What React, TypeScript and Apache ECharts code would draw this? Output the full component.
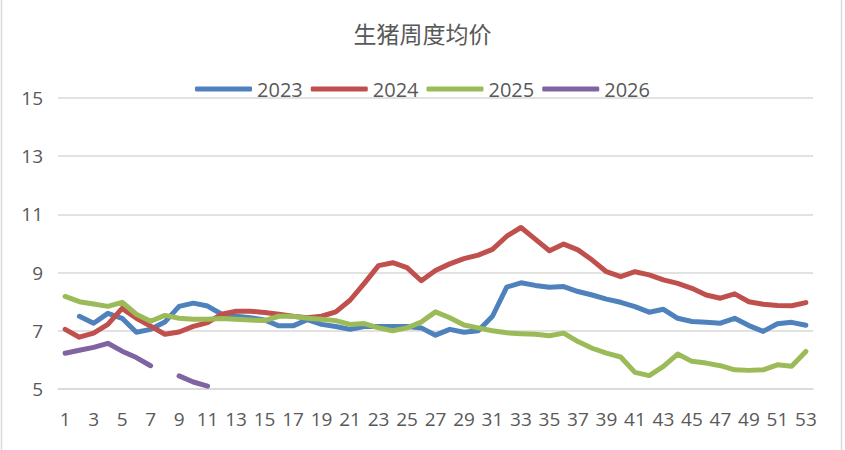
import React, { useEffect, useRef } from 'react';
import * as echarts from 'echarts';

// 周次 1..53
const weeks = Array.from({ length: 53 }, (_, i) => String(i + 1));

const yearNames = ['2023', '2024', '2025', '2026'];
const yearColors = ['#4F81BD', '#C0504D', '#9BBB59', '#8064A2'];

const price2023 = [
  null, 7.5, 7.26, 7.6, 7.43, 6.95, 7.05, 7.3, 7.84, 7.95,
  7.85, 7.57, 7.5, 7.45, 7.37, 7.17, 7.17, 7.38, 7.22, 7.15,
  7.05, 7.15, 7.15, 7.15, 7.15, 7.1, 6.85, 7.05, 6.95, 7.0,
  7.5, 8.5, 8.65, 8.56, 8.5, 8.52, 8.35, 8.23, 8.09, 7.98,
  7.83, 7.64, 7.74, 7.43, 7.32, 7.29, 7.26, 7.43, 7.18, 6.98,
  7.24, 7.29, 7.19,
];

const price2024 = [
  7.05, 6.78, 6.92, 7.22, 7.77, 7.43, 7.16, 6.88, 6.96, 7.15,
  7.28, 7.57, 7.67, 7.67, 7.63, 7.57, 7.5, 7.45, 7.5, 7.65,
  8.05, 8.63, 9.24, 9.34, 9.17, 8.72, 9.07, 9.3, 9.48, 9.6,
  9.8, 10.25, 10.55, 10.15, 9.75, 9.98, 9.78, 9.43, 9.03, 8.86,
  9.03, 8.92, 8.75, 8.63, 8.46, 8.23, 8.12, 8.27, 8.0, 7.91,
  7.87, 7.86, 7.97,
];

const price2025 = [
  8.18, 8.0, 7.92, 7.84, 7.98, 7.57, 7.33, 7.53, 7.43, 7.4,
  7.4, 7.42, 7.4, 7.37, 7.35, 7.5, 7.5, 7.43, 7.4, 7.35,
  7.22, 7.25, 7.1, 7.0, 7.1, 7.3, 7.65, 7.45, 7.2, 7.1,
  7.0, 6.93, 6.9, 6.88, 6.83, 6.92, 6.63, 6.4, 6.23, 6.1,
  5.57, 5.46, 5.78, 6.2, 5.95, 5.89, 5.8, 5.66, 5.64, 5.66,
  5.83, 5.78, 6.29,
];

const price2026 = [6.23, 6.33, 6.43, 6.57, 6.3, 6.08, 5.8, null, 5.45, 5.24, 5.1];

const allSeries = [price2023, price2024, price2025, price2026];

const textColor = '#595959';
const gridColor = '#d9d9d9';
const font = '"Open Sans", "Noto Sans", sans-serif';

export default function App() {
  const chartRef = useRef<HTMLDivElement>(null);

  useEffect(() => {
    document.body.style.margin = '0';
    if (!chartRef.current) return;
    const chart = echarts.init(chartRef.current, null, { renderer: 'svg' });

    const option = {
      animation: false,
      backgroundColor: '#ffffff',
      title: {
        text: '生猪周度均价',
        left: 'center',
        top: 16,
        textStyle: {
          fontFamily: '"Noto Sans CJK SC", sans-serif',
          fontSize: 23,
          fontWeight: 'normal',
          color: textColor,
        },
      },
      legend: {
        top: 74,
        left: 'center',
        icon: 'roundRect',
        itemWidth: 57,
        itemHeight: 5,
        itemGap: 8,
        textStyle: { fontFamily: font, fontSize: 20, color: textColor },
        data: yearNames,
      },
      grid: { left: 58, right: 32, top: 98, bottom: 61 },
      graphic: [
        { type: 'line', shape: { x1: 1.5, y1: 0, x2: 1.5, y2: 450 }, style: { stroke: gridColor, lineWidth: 1.5 } },
        { type: 'line', shape: { x1: 841.5, y1: 0, x2: 841.5, y2: 450 }, style: { stroke: gridColor, lineWidth: 1.5 } },
      ],
      xAxis: {
        type: 'category',
        data: weeks,
        boundaryGap: true,
        axisLine: { show: true, lineStyle: { color: gridColor, width: 1.5 } },
        axisTick: { show: false },
        axisLabel: {
          interval: 1,
          margin: 20,
          fontFamily: font,
          fontSize: 19,
          color: textColor,
        },
      },
      yAxis: {
        type: 'value',
        min: 5,
        max: 15,
        interval: 2,
        axisLine: { show: false },
        axisTick: { show: false },
        axisLabel: { margin: 15, fontFamily: font, fontSize: 19, color: textColor },
        splitLine: { lineStyle: { color: gridColor, width: 1.5 } },
      },
      series: yearNames.map((name, i) => ({
        name,
        type: 'line',
        data: allSeries[i],
        symbol: 'none',
        smooth: false,
        connectNulls: false,
        itemStyle: { color: yearColors[i] },
        lineStyle: { color: yearColors[i], width: 5, cap: 'round', join: 'round' },
      })),
    };

    chart.setOption(option);
    return () => {
      chart.dispose();
    };
  }, []);

  return <div ref={chartRef} style={{ width: 845, height: 450 }} />;
}
